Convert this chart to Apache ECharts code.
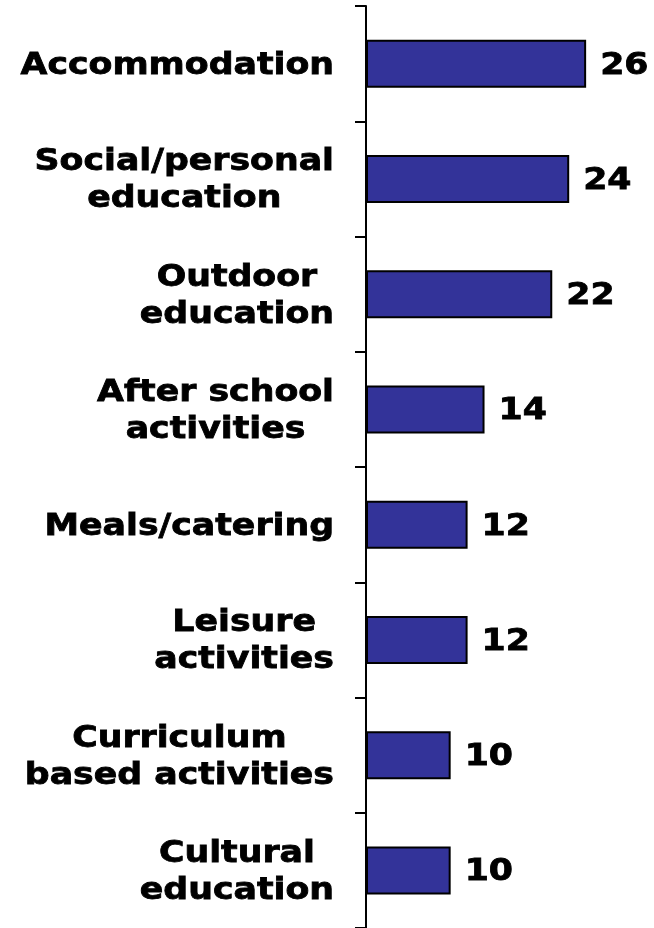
<!DOCTYPE html>
<html>
<head>
<meta charset="utf-8">
<script src="https://cdn.jsdelivr.net/npm/echarts@6/dist/echarts.min.js"></script>
<style>
  html, body { margin: 0; padding: 0; background: #ffffff; }
  #chart { width: 654px; height: 928px; }
</style>
</head>
<body>
<div id="chart"></div>
<script>
// Service areas, top to bottom
const categories = [
  'Accommodation',
  'Social/personal\neducation',
  'Outdoor\neducation',
  'After school\nactivities',
  'Meals/catering',
  'Leisure\nactivities',
  'Curriculum\nbased activities',
  'Cultural\neducation'
];
const values = [26, 24, 22, 14, 12, 12, 10, 10];

// Text is drawn wide and heavy, Verdana-style
const FONT_FAMILY = '"DejaVu Sans", Verdana, sans-serif';
const FONT_SIZE = 31;
const FONT = 'bold ' + FONT_SIZE + 'px ' + FONT_FAMILY;
const TEXT_STRETCH = 1.12;
const TEXT_STROKE = 0.8;
const LINE_HEIGHT = 37;
const LABEL_GAP = 32;   // from axis line to right edge of category text
const VALUE_GAP = 14;   // from bar end to value text
const TEXT_DROP = 2;    // nudges text down so glyphs sit centred on the bar

const chart = echarts.init(document.getElementById('chart'));
chart.setOption({
  backgroundColor: '#ffffff',
  animation: false,
  grid: { left: 366, right: 34, top: 6, bottom: -2, containLabel: false },
  xAxis: {
    type: 'value',
    min: 0,
    max: 30,
    show: false
  },
  yAxis: {
    type: 'category',
    data: categories,
    inverse: true,
    axisLine: { show: true, lineStyle: { color: '#000000', width: 2 } },
    axisTick: { show: true, length: 11, lineStyle: { color: '#000000', width: 2 } },
    axisLabel: { show: false },
    splitLine: { show: false }
  },
  series: [
    {
      type: 'bar',
      data: values,
      barWidth: 48,
      itemStyle: { color: '#333399', borderColor: '#000000', borderWidth: 2 },
      z: 2
    },
    {
      // category names, lines centred within a right-aligned block
      type: 'custom',
      silent: true,
      clip: false,
      data: categories.map(function (c, i) { return [0, i]; }),
      renderItem: function (params, api) {
        const p = api.coord([0, api.value(1)]);
        const lines = categories[params.dataIndex].split('\n');
        return {
          type: 'text',
          x: p[0] - LABEL_GAP,
          y: p[1] + TEXT_DROP,
          scaleX: TEXT_STRETCH,
          style: {
            text: lines.map(function (s) { return '{c|' + s + '}'; }).join('\n'),
            align: 'right',
            verticalAlign: 'middle',
            fill: '#000000',
            font: FONT,
            lineHeight: LINE_HEIGHT,
            stroke: '#000000',
            lineWidth: TEXT_STROKE,
            rich: {
              c: {
                align: 'center', font: FONT, lineHeight: LINE_HEIGHT, fill: '#000000',
                stroke: '#000000', lineWidth: TEXT_STROKE
              }
            }
          }
        };
      },
      z: 3
    },
    {
      // value text at the end of each bar
      type: 'custom',
      silent: true,
      clip: false,
      data: values.map(function (v, i) { return [v, i]; }),
      renderItem: function (params, api) {
        const p = api.coord([api.value(0), api.value(1)]);
        return {
          type: 'text',
          x: p[0] + VALUE_GAP,
          y: p[1] + TEXT_DROP,
          scaleX: TEXT_STRETCH,
          style: {
            text: String(api.value(0)),
            align: 'left',
            verticalAlign: 'middle',
            fill: '#000000',
            font: FONT,
            stroke: '#000000',
            lineWidth: TEXT_STROKE
          }
        };
      },
      z: 3
    }
  ]
});
</script>
</body>
</html>
